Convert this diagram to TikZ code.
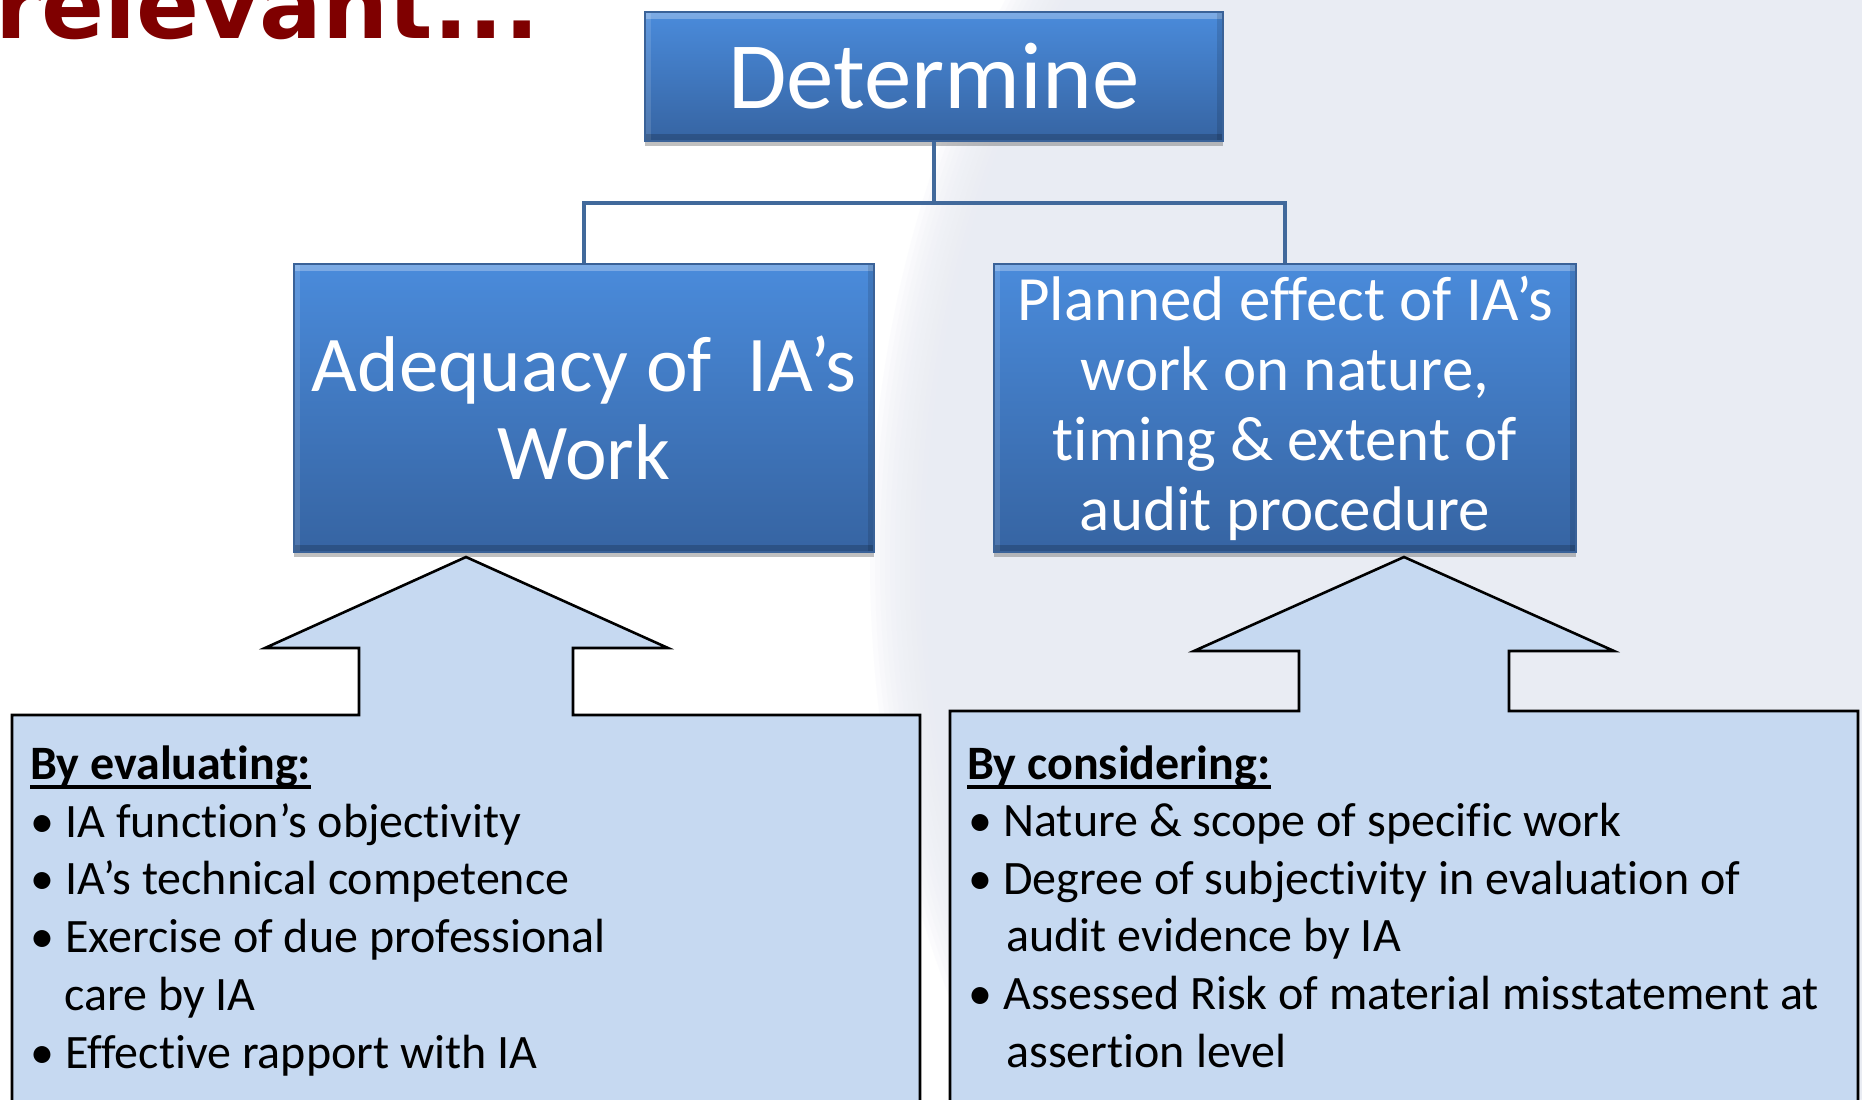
\documentclass[tikz,border=0pt]{standalone}
\usepackage{fontspec}
\setmainfont[Ligatures=CommonOff]{Carlito}
\newfontfamily\titlefont{DejaVu Sans}
\usetikzlibrary{shadows,calc}
\definecolor{boxtop}{HTML}{4A8BDB}
\definecolor{boxbot}{HTML}{3664A2}
\definecolor{boxedge}{HTML}{3A6298}
\definecolor{connc}{HTML}{41699B}
\definecolor{callfill}{HTML}{C6D9F1}
\definecolor{titlered}{HTML}{7F0000}
\definecolor{globec}{HTML}{E9ECF3}
\tikzset{
  bluebox/.style={rectangle, inner sep=0pt, draw=boxedge, line width=0.8pt,
    top color=boxtop, bottom color=boxbot, text=white, align=center,
    drop shadow={shadow xshift=0pt, shadow yshift=-2.5pt, opacity=0.35, fill=black!70},
    path picture={
      \fill[white,opacity=.28] (path picture bounding box.north west) rectangle ([yshift=-3.5pt]path picture bounding box.north east);
      \fill[white,opacity=.12] (path picture bounding box.north west) rectangle ([xshift=3pt]path picture bounding box.south west);
      \fill[black,opacity=.12] (path picture bounding box.north east) rectangle ([xshift=-3pt]path picture bounding box.south east);
      \fill[black,opacity=.18] (path picture bounding box.south west) rectangle ([yshift=3.5pt]path picture bounding box.south east);
    }},
  conn/.style={draw=connc, line width=2pt},
  callout/.style={fill=callfill, draw=black, line width=1.3pt, line join=miter},
  lst/.style={anchor=base west, inner sep=0pt, text=black, font=\fontsize{24}{28.8}\selectfont},
  lsthead/.style={lst, font=\fontsize{24}{28.8}\selectfont\bfseries},
  uline/.style={draw=black, line width=1.6pt}
}
\begin{document}
\begin{tikzpicture}[x=0.5pt,y=-0.5pt]
\useasboundingbox (0,0) rectangle (1862,1099);
\fill[white] (0,0) rectangle (1862,1099);
% soft globe watermark
\foreach \r in {0,...,11}{
  \fill[globec, opacity=0.16] (1730,560) ellipse [x radius={430pt-\r*2.5pt}, y radius={520pt-\r*2.5pt}];
}

% title fragment
\node[anchor=base west, inner sep=0pt, text=titlered, font=\titlefont\bfseries\fontsize{46.5}{50}\selectfont] (title) at (-5,38) {relevant...};

% blue boxes
\node[bluebox, minimum width=289pt, minimum height=64.5pt, font=\fontsize{47.5}{50}\selectfont] (det) at (934,76.5) {Determine};
\node[bluebox, minimum width=290pt, minimum height=144pt, font=\fontsize{39.5}{44}\selectfont] (adeq) at (584,408) {Adequacy of~~IA’s\\Work};
\node[bluebox, minimum width=291pt, minimum height=144pt, font=\fontsize{31.5}{35}\selectfont] (plan) at (1285,408) {Planned effect of IA’s\\work on nature,\\timing \& extent of\\audit procedure};

% connectors
\coordinate (hub) at (934,203);
\draw[conn] (det.south) -- (hub);
\draw[conn] (hub) -| (adeq.north);
\draw[conn] (hub) -| (plan.north);

% callouts
\coordinate (ltip) at (466,557);
\coordinate (rtip) at (1404,557);
\draw[callout] (12,1115) -- (12,715) -- (359,715) -- (359,648) -- (265,648) -- (ltip) -- (668,648) -- (573,648) -- (573,715) -- (920,715) -- (920,1115) -- cycle;
\draw[callout] (950,1115) -- (950,711) -- (1299,711) -- (1299,651) -- (1194,651) -- (rtip) -- (1614,651) -- (1509,651) -- (1509,711) -- (1858,711) -- (1858,1115) -- cycle;

% left list
\node[lsthead] (lh) at (30,779) {By evaluating:};
\draw[uline] ($(lh.base west)+(0,8)$) -- ($(lh.base east)+(0,8)$);
\node[lst] (lb1) at (30,837) {•};
\node[lst] (lt1) at (65,837) {IA function’s objectivity};
\node[lst] (lb2) at (30,894) {•};
\node[lst] (lt2) at (65,894) {IA’s technical competence};
\node[lst] (lb3) at (30,952) {•};
\node[lst] (lt3) at (65,952) {Exercise of due professional};
\node[lst] (lt3b) at (64,1010) {care by IA};
\node[lst] (lb4) at (30,1068) {•};
\node[lst] (lt4) at (65,1068) {Effective rapport with IA};

% right list
\node[lsthead] (rh) at (967,779) {By considering:};
\draw[uline] ($(rh.base west)+(0,8)$) -- ($(rh.base east)+(0,8)$);
\node[lst] (rb1) at (968,836) {•};
\node[lst] (rt1) at (1003,836) {Nature \& scope of specific work};
\node[lst] (rb2) at (968,894) {•};
\node[lst] (rt2) at (1003,894) {Degree of subjectivity in evaluation of};
\node[lst] (rt2b) at (1006,951) {audit evidence by IA};
\node[lst] (rb3) at (968,1009) {•};
\node[lst] (rt3) at (1003,1009) {Assessed Risk of material misstatement at};
\node[lst] (rt3b) at (1006,1067) {assertion level};
\end{tikzpicture}
\end{document}
